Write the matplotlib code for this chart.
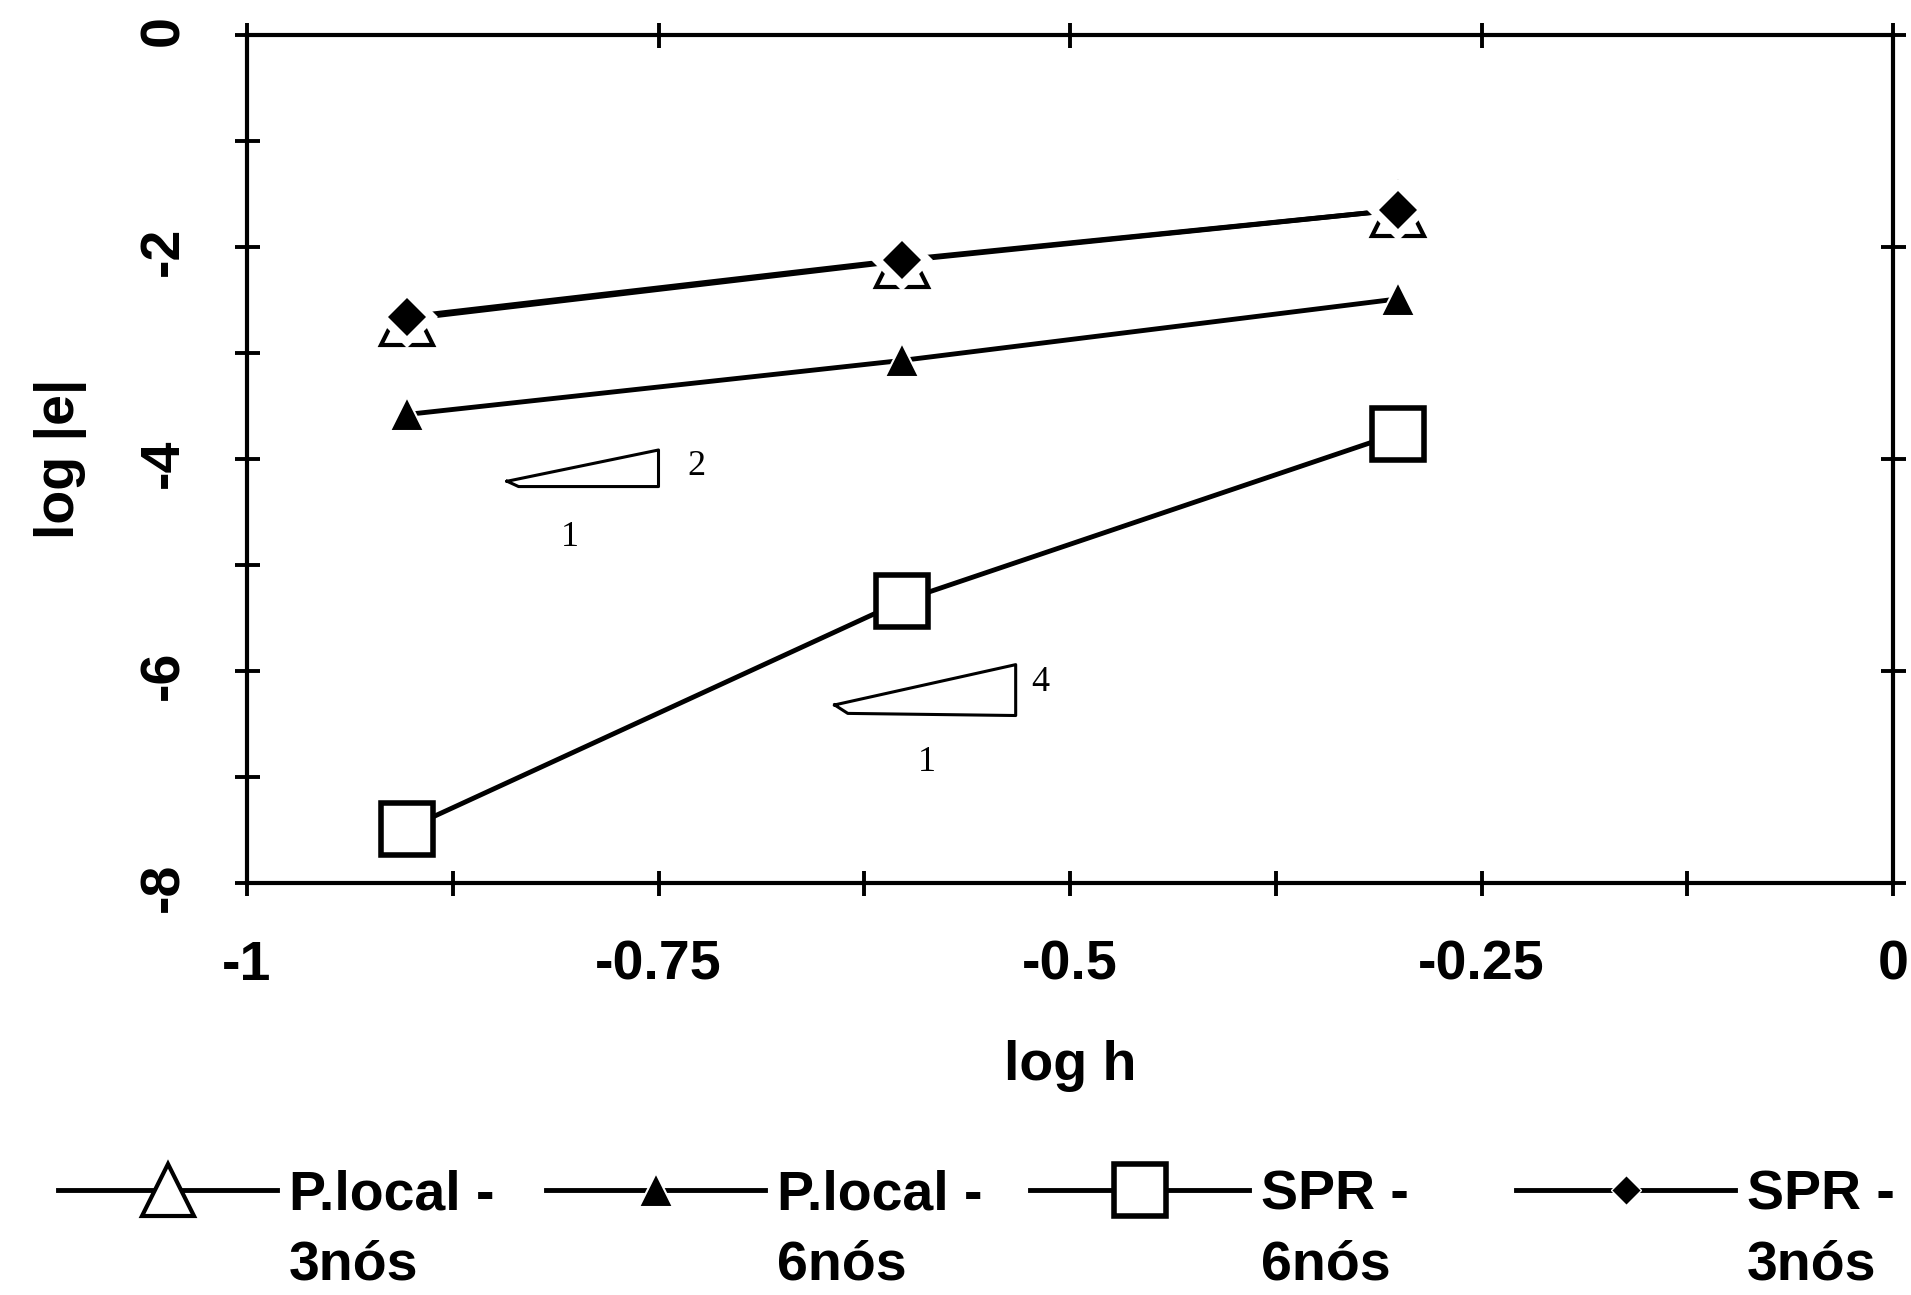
import matplotlib
matplotlib.use('Agg')
import matplotlib.pyplot as plt
from matplotlib.lines import Line2D
from matplotlib.text import Annotation
from matplotlib.ticker import MultipleLocator

plt.rcParams['font.family'] = ['Liberation Sans', 'DejaVu Sans']
plt.rcParams['font.weight'] = 'bold'

# dados (log h, log |e|)
log_h = [-0.903, -0.602, -0.301]
plocal_3nos = [-2.68, -2.13, -1.65]
plocal_6nos = [-3.58, -3.07, -2.49]
spr_6nos = [-7.49, -5.34, -3.76]
spr_3nos = [-2.66, -2.12, -1.65]

xticks = [-1, -0.75, -0.5, -0.25, 0]
xtick_labels = ['-1', '-0.75', '-0.5', '-0.25', '0']
yticks = [-8, -6, -4, -2, 0]
ytick_labels = ['-8', '-6', '-4', '-2', '0']

legend_first = ['P.local -', 'P.local -', 'SPR -', 'SPR -']
legend_second = ['3nós', '6nós', '6nós', '3nós']

# triangulos de inclinacao (2:1 e 4:1)
slope2_x = [-0.842, -0.835, -0.750, -0.750, -0.842]
slope2_y = [-4.21, -4.26, -4.26, -3.915, -4.21]
slope4_x = [-0.643, -0.635, -0.533, -0.533, -0.643]
slope4_y = [-6.32, -6.40, -6.42, -5.94, -6.32]

fig = plt.figure(figsize=(19.11, 12.95), dpi=100)
ax = fig.add_axes([247/1911, 1 - 883/1295, (1893 - 247)/1911, (883 - 35)/1295])

l1, = ax.plot(log_h, plocal_3nos, color='k', lw=3.5, marker='^', ms=38,
              mfc='white', mec='k', mew=3, zorder=2)
l2, = ax.plot(log_h, plocal_6nos, color='k', lw=3.5, marker='^', ms=25,
              mfc='k', mec='white', mew=1.5, zorder=3)
l3, = ax.plot(log_h, spr_6nos, color='k', lw=3.5, marker='s', ms=38,
              mfc='white', mec='k', mew=4, zorder=3)
ax.plot(log_h, spr_3nos, color='k', lw=3.5, zorder=3)
# halo branco em volta dos losangos
ax.plot(log_h, spr_3nos, ls='none', marker='D', ms=32, color='white', mew=0, zorder=4)
ax.plot(log_h, spr_3nos, ls='none', marker='D', ms=19, color='k', mew=0, zorder=5)
l4 = Line2D([], [], color='k', lw=3.5, marker='D', ms=15, mfc='k', mec='white', mew=1)

ax.plot(slope2_x, slope2_y, color='k', lw=2.2)
ax.plot(slope4_x, slope4_y, color='k', lw=2.2)
serif = dict(family='Liberation Serif', weight='normal', fontsize=26, ha='center', va='center')
ax.text(-0.727, -4.075, '2', **serif)
ax.text(-0.804, -4.74, '1', **serif)
ax.text(-0.518, -6.11, '4', **serif)
ax.text(-0.587, -6.86, '1', **serif)

ax.set_xlim(-1, 0)
ax.set_ylim(-8, 0)
ax.set_xticks(xticks, xtick_labels)
ax.set_yticks(yticks, ytick_labels)
ax.xaxis.set_minor_locator(MultipleLocator(0.125))
ax.yaxis.set_minor_locator(MultipleLocator(1))
ax.tick_params(which='both', direction='inout', length=18, width=2.8, colors='k')
ax.tick_params(which='major', top=True, right=True, labeltop=False, labelright=False, labelsize=40)
ax.tick_params(which='minor', top=False, right=False)
ax.tick_params(axis='y', labelrotation=90, pad=32)
ax.tick_params(axis='x', pad=32)
for s in ax.spines.values():
    s.set_linewidth(3)

ax.set_xlabel('log h', fontsize=40, fontweight='bold')
ax.xaxis.set_label_coords(0.5, -0.185)
ax.set_ylabel('log |e|', fontsize=40, fontweight='bold')
ax.yaxis.set_label_coords(-0.097, 0.5)

# legenda em 4 colunas, texto em duas linhas
legend_x = [58, 546, 1030, 1516]
for h, a, b, x0 in zip([l1, l2, l3, l4], legend_first, legend_second, legend_x):
    leg = fig.legend([h], [a], loc='center left', bbox_to_anchor=(x0/1911, 1 - 1195/1295),
                     frameon=False, borderpad=0, borderaxespad=0, handlelength=3.95,
                     handletextpad=0.2, prop={'size': 40, 'weight': 'bold'})
    t = leg.get_texts()[0]
    fig.add_artist(Annotation(b, xy=(0, 0), xycoords=t, xytext=(0, -13),
                              textcoords='offset points', ha='left', va='top',
                              fontsize=40, fontweight='bold', zorder=6))

fig.savefig('out.png', dpi=100)
